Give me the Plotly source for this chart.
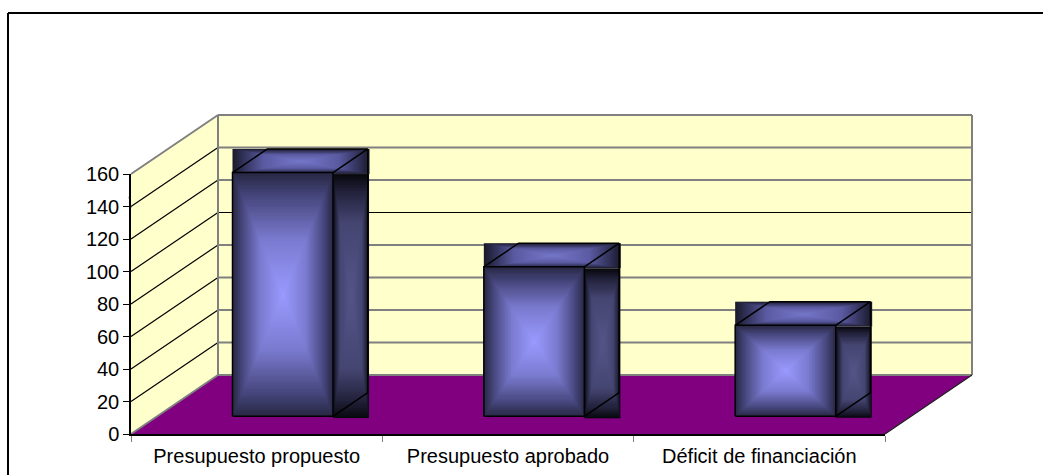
import numpy as np
import plotly.graph_objects as go

categories = ["Presupuesto propuesto", "Presupuesto aprobado", "Déficit de financiación"]
values = [150, 92, 56]
y_ticks = [0, 20, 40, 60, 80, 100, 120, 140, 160]

W, H = 1043, 475
X0_PX, X1_PX = 131, 885
Y0_PX, Y1_PX = 434, 174
UX = (X1_PX - X0_PX) / 3      # px per category
UY = (Y0_PX - Y1_PX) / 160    # px per value unit
DX = 87 / UX                  # wall depth, in data units
DY = 59 / UY
WALL = "#FFFFCC"
FLOOR = "#800080"
GREY = "#808080"
BAR_HALF = 0.2
D_FRONT, D_BACK = 0.3, 0.7
FONT = dict(family="Liberation Sans, Arial, sans-serif", size=20, color="#000000")

FRONT_SCALE = [[0, "#9999FF"], [0.45, "#7A7AD0"], [0.8, "#47477E"], [1, "#262642"]]
TOP_SCALE = [[0, "#7676CA"], [0.55, "#5A5AA2"], [0.85, "#2F2F55"], [1, "#181828"]]
SIDE_SCALE = [[0, "#545488"], [0.6, "#454572"], [0.85, "#22223C"], [1, "#07070D"]]


def proj(x, v, d):
    return x + d * DX, v + d * DY


def poly(pts, **kw):
    path = "M " + " L ".join(f"{x:.5f} {y:.5f}" for x, y in pts) + " Z"
    return dict(type="path", path=path, xref="x", yref="y", layer="below", **kw)


def seg(a, b, color, width):
    return dict(type="line", xref="x", yref="y", layer="below",
                x0=a[0], y0=a[1], x1=b[0], y1=b[1],
                line=dict(color=color, width=width))


XL, XR = -0.5, 2.5
VT = y_ticks[-1]
shapes = [
    poly([proj(XL, 0, 1), proj(XR, 0, 1), proj(XR, VT, 1), proj(XL, VT, 1)],
         fillcolor=WALL, line=dict(width=0)),
    poly([proj(XL, 0, 0), proj(XL, 0, 1), proj(XL, VT, 1), proj(XL, VT, 0)],
         fillcolor=WALL, line=dict(width=0)),
    poly([proj(XL, 0, 0), proj(XR, 0, 0), proj(XR, 0, 1), proj(XL, 0, 1)],
         fillcolor=FLOOR, line=dict(width=0)),
]
for v in y_ticks[1:-1]:
    black = v == 100
    shapes.append(seg(proj(XL, v, 1), proj(XR, v, 1), "#000000" if black else GREY, 1 if black else 2))
    shapes.append(seg(proj(XL, v, 0), proj(XL, v, 1), "#000000", 1.2))
shapes += [
    seg(proj(XL, VT, 0), proj(XL, VT, 1), GREY, 2),
    seg(proj(XL, VT, 1), proj(XR, VT, 1), GREY, 2),
    seg(proj(XR, VT, 1), proj(XR, 0, 1), GREY, 2),
    seg(proj(XL, 0, 1), proj(XR, 0, 1), GREY, 2),
    seg(proj(XL, VT, 1), proj(XL, 0, 1), GREY, 2),
    seg(proj(XL, 0, 1), proj(XL, 0, 0), GREY, 2),
    seg(proj(XR, 0, 0), proj(XR, 0, 1), "#202020", 1.2),
    # small stray stroke beside the value axis
    seg((XL - 2 / UX, 146), (XL, 139), "#606060", 1),
]
# outer frame
shapes += [
    dict(type="line", xref="paper", yref="paper", x0=8 / W, x1=1, y0=1 - 13 / H, y1=1 - 13 / H,
         line=dict(color="#000000", width=2)),
    dict(type="line", xref="paper", yref="paper", x0=8 / W, x1=8 / W, y0=0, y1=1 - 13 / H,
         line=dict(color="#000000", width=2)),
]


def grad(x0, x1, v0, v1, scale, n=140):
    xe = np.linspace(x0, x1, n + 1)
    ye = np.linspace(v0, v1, n + 1)
    xc = (xe[:-1] + xe[1:]) / 2
    yc = (ye[:-1] + ye[1:]) / 2
    u = np.abs(2 * (xc - x0) / (x1 - x0) - 1)
    w = np.abs(2 * (yc - v0) / (v1 - v0) - 1)
    z = np.maximum.outer(w, u)
    return go.Heatmap(x=xe, y=ye, z=z, zmin=0, zmax=1, showscale=False, hoverinfo="skip",
                      colorscale=scale, xaxis="x", yaxis="y")


fig = go.Figure()
PX = 1.5 / UX
PY = 1.5 / UY
edge_x, edge_y = [], []
for i, val in enumerate(values):
    l, r = i - BAR_HALF, i + BAR_HALF
    fbl = proj(l, 0, D_FRONT)
    ftr = proj(r, val, D_FRONT)
    bbr = proj(r, 0, D_BACK)
    btr = proj(r, val, D_BACK)
    btl = proj(l, val, D_BACK)
    ftl = proj(l, val, D_FRONT)
    fbr = proj(r, 0, D_FRONT)
    fig.add_trace(grad(fbl[0], btr[0] + PX, ftl[1] - PY, btr[1], TOP_SCALE))
    fig.add_trace(grad(fbr[0], btr[0] + PX, fbr[1] - PY, ftr[1] - PY, SIDE_SCALE))
    fig.add_trace(grad(fbl[0], ftr[0], fbl[1], ftr[1], FRONT_SCALE))
    for loop in ([fbl, fbr, ftr, ftl, fbl], [ftl, btl, btr, ftr], [btr, bbr, fbr]):
        edge_x += [p[0] for p in loop] + [None]
        edge_y += [p[1] for p in loop] + [None]
fig.add_trace(go.Scatter(x=edge_x, y=edge_y, mode="lines", hoverinfo="skip", showlegend=False,
                         line=dict(color="#000000", width=1.5), xaxis="x", yaxis="y"))
# real category / value axes
fig.add_trace(go.Scatter(x=categories, y=values, mode="markers", marker=dict(opacity=0),
                         hoverinfo="skip", showlegend=False, xaxis="x2", yaxis="y2"))

fig.update_layout(
    width=W, height=H, margin=dict(l=0, r=0, t=0, b=0, pad=0, autoexpand=False),
    paper_bgcolor="#FFFFFF", plot_bgcolor="rgba(0,0,0,0)",
    showlegend=False, shapes=shapes, font=FONT,
    xaxis=dict(visible=False, domain=[0, 1], fixedrange=True, automargin=False,
               range=[XL - X0_PX / UX, XL + (W - X0_PX) / UX]),
    yaxis=dict(visible=False, domain=[0, 1], fixedrange=True, automargin=False,
               range=[(Y0_PX - H) / UY, Y0_PX / UY]),
    xaxis2=dict(domain=[X0_PX / W, X1_PX / W], anchor="y2", type="category",
                categoryorder="array", categoryarray=categories, range=[XL, XR],
                tickson="boundaries", ticks="outside", ticklen=6, tickcolor="#808080",
                ticklabelstandoff=3,
                showline=True, linecolor="#000000", linewidth=1.5, showgrid=False,
                zeroline=False, tickfont=FONT, fixedrange=True, automargin=False),
    yaxis2=dict(domain=[1 - Y0_PX / H, 1 - Y1_PX / H], anchor="x2", range=[0, VT],
                tickvals=y_ticks, ticks="outside", ticklen=6, tickcolor="#000000",
                showline=True, linecolor="#000000", linewidth=1.5, showgrid=False,
                zeroline=False, tickfont=FONT, fixedrange=True, automargin=False),
)
fig.write_html("out.html", config=dict(displayModeBar=False),
               post_script="document.body.style.margin='0';document.documentElement.style.overflow='hidden';")
